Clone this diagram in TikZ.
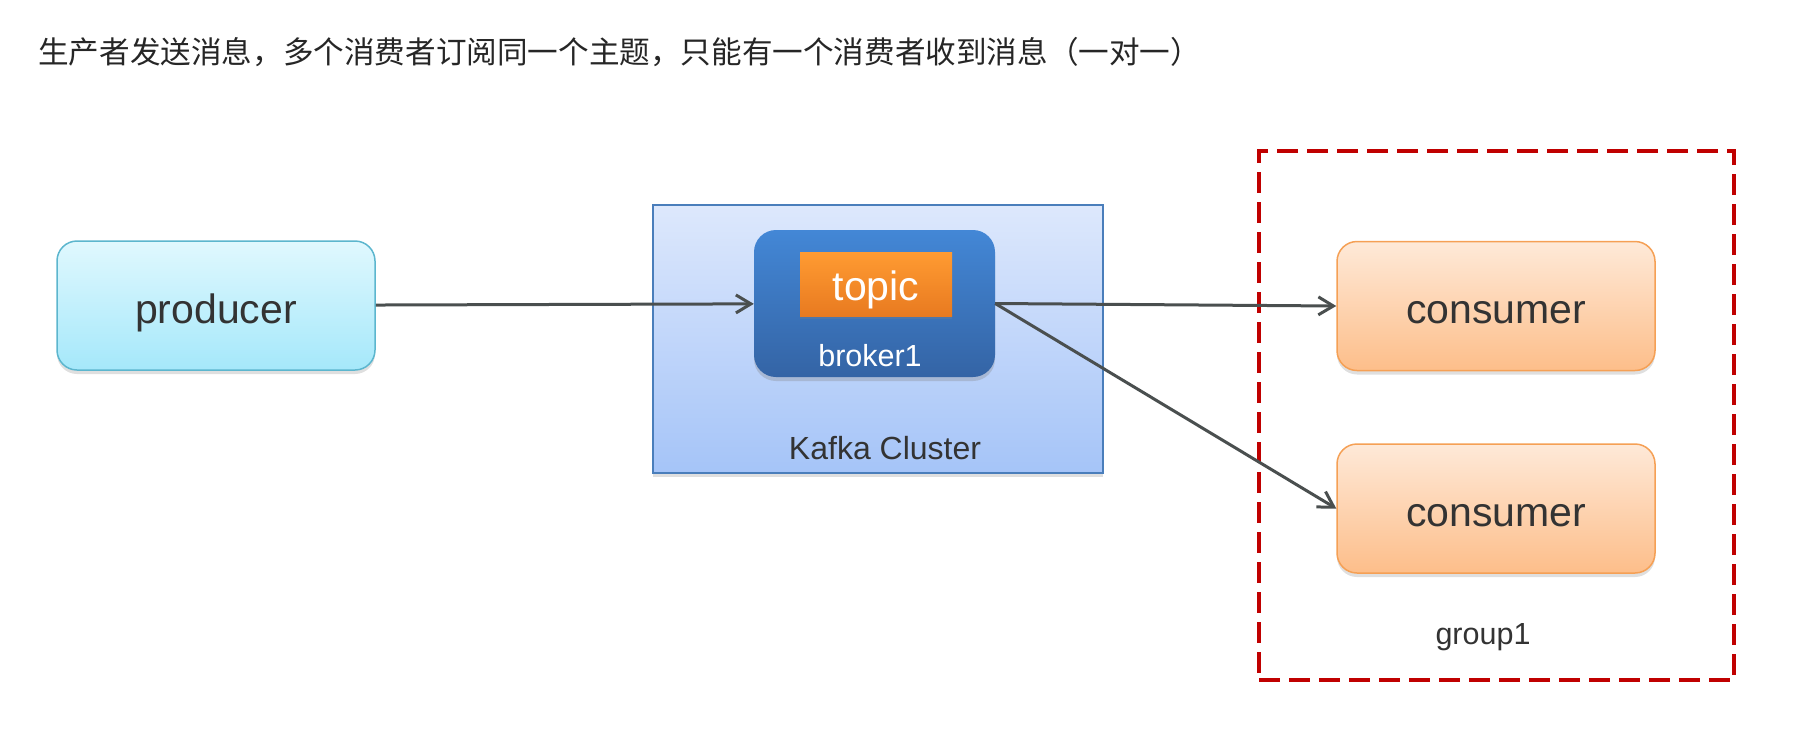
\documentclass[tikz,border=0pt]{standalone}
\usepackage{fontspec}
\setmainfont{Liberation Sans}
\newfontfamily\cjk{Noto Sans CJK SC}
\usepackage{xcolor}
\usetikzlibrary{arrows.meta, positioning, shadows}

\definecolor{txtgray}{HTML}{333333}
\definecolor{arrgray}{HTML}{4A4F4F}
\definecolor{groupred}{HTML}{C00000}
\definecolor{prodtop}{HTML}{E0F8FE}
\definecolor{prodbot}{HTML}{A5E8FA}
\definecolor{prodline}{HTML}{5CB6CE}
\definecolor{constop}{HTML}{FEE9D8}
\definecolor{consbot}{HTML}{FDBE8A}
\definecolor{consline}{HTML}{F5A055}
\definecolor{clustop}{HTML}{DDE8FC}
\definecolor{clusbot}{HTML}{A5C4F8}
\definecolor{clusline}{HTML}{4A7EBB}
\definecolor{brokertop}{HTML}{4387D6}
\definecolor{brokerbot}{HTML}{3464A5}
\definecolor{topictop}{HTML}{FF9B32}
\definecolor{topicbot}{HTML}{E87A20}

\begin{document}
\begin{tikzpicture}[
  x=1pt, y=-1pt,
  block/.style={draw, rounded corners=20pt, minimum width=318pt, minimum height=129pt, line width=1.5pt, text=txtgray, font=\fontsize{41}{48}\selectfont, text height=35pt, text depth=0pt, drop shadow={opacity=0.25, shadow xshift=0pt, shadow yshift=-4pt}},
  prodbox/.style={block, draw=prodline, top color=prodtop, bottom color=prodbot},
  consbox/.style={block, draw=consline, top color=constop, bottom color=consbot},
  label/.style={text=txtgray, font=\fontsize{30.5}{36}\selectfont},
  arr/.style={-{Straight Barb[length=15pt, width=18pt]}, line width=3pt, draw=arrgray},
  node distance=72pt
]
\useasboundingbox (0,0) rectangle (1806,732);

\node[anchor=west, inner sep=0pt, text=black!85, font=\cjk\fontsize{30.6}{36}\selectfont] (title) at (38,52) {生产者发送消息，多个消费者订阅同一个主题，只能有一个消费者收到消息（一对一）};

\node[prodbox] (prod) at (216,305.5) {producer};

\node[draw=clusline, line width=1.5pt, top color=clustop, bottom color=clusbot, minimum width=450pt, minimum height=268pt, drop shadow={opacity=0.25, shadow xshift=0pt, shadow yshift=-4pt}] (cluster) at (878,339) {};
\node[label, font=\fontsize{32}{38}\selectfont] (clusterlbl) at (885,448) {Kafka Cluster};

\node[rounded corners=22pt, top color=brokertop, bottom color=brokerbot, minimum width=241pt, minimum height=147pt, drop shadow={opacity=0.3, shadow xshift=0pt, shadow yshift=-4pt}] (broker) at (874.5,303.5) {};
\node[top color=topictop, bottom color=topicbot, minimum width=152pt, minimum height=64pt, text=white, font=\fontsize{41}{48}\selectfont, text height=33pt, text depth=0pt, drop shadow={opacity=0.3, shadow xshift=0pt, shadow yshift=-3pt}] (topic) at (876,284) {topic};
\node[label, text=white] (brokerlbl) at (870,355.5) {broker1};

\node[consbox] (cons1) at (1496,306) {consumer};
\node[consbox, below=of cons1] (cons2) {consumer};

\node[draw=groupred, line width=4pt, dash pattern=on 21pt off 9pt, minimum width=475pt, minimum height=529pt] (group) at (1496.5,415.5) {};
\node[label] (grouplbl) at (1483,637) {group1};

\draw[arr] (prod) -- (broker);
\draw[arr] (broker.east) -- (cons1.west);
\draw[arr] (broker.east) -- (cons2.west);
\end{tikzpicture}
\end{document}
